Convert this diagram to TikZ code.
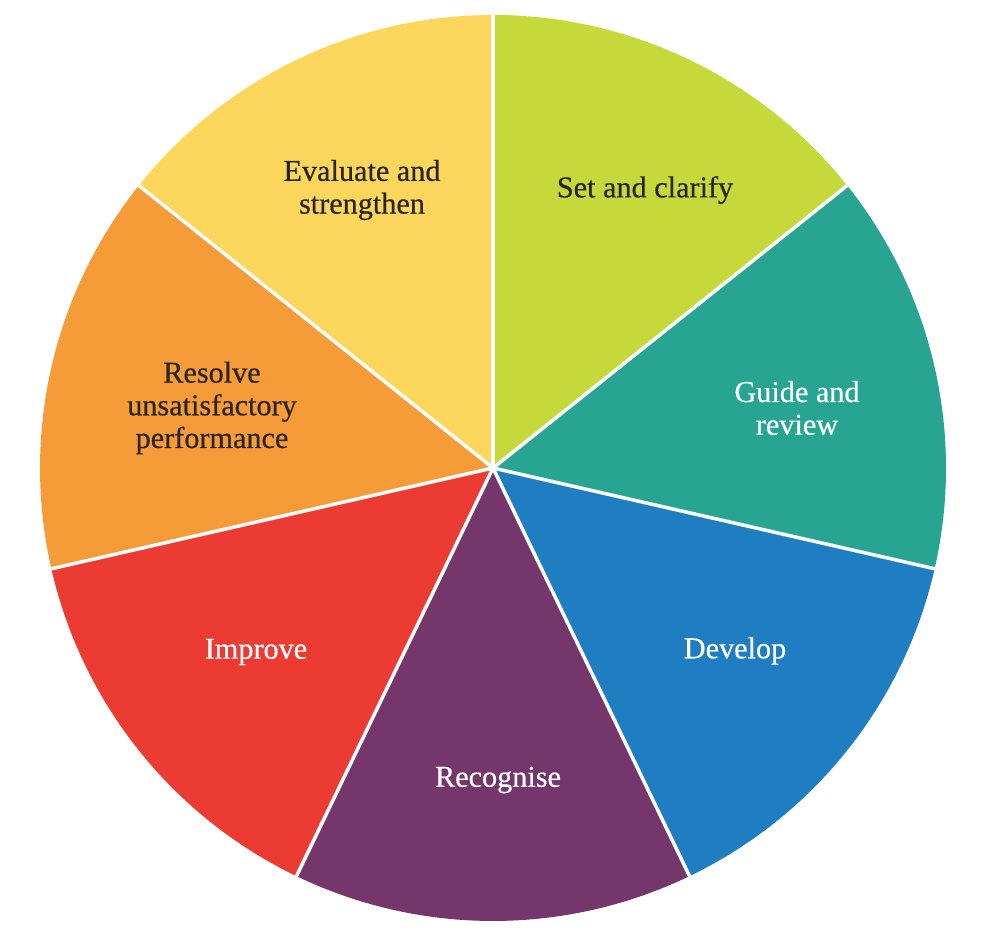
\documentclass[tikz,border=0pt]{standalone}
\usepackage{fontspec}
\setmainfont{Liberation Serif}
\newfontfamily\slicefont{Liberation Serif}[FakeBold=0.5]
\usepackage{tikz}
\usetikzlibrary{positioning}
\definecolor{slicelime}{HTML}{C5D93A}
\definecolor{sliceteal}{HTML}{27A592}
\definecolor{sliceblue}{HTML}{1F7DC1}
\definecolor{slicepurple}{HTML}{74366B}
\definecolor{slicered}{HTML}{EC3B33}
\definecolor{sliceorange}{HTML}{F59B38}
\definecolor{sliceyellow}{HTML}{FDD75B}
\definecolor{labeldark}{HTML}{2A2424}

\begin{document}
\begin{tikzpicture}[
  divider/.style={draw=white, line width=1pt},
  darklabel/.style={align=center, text=labeldark, font=\slicefont\fontsize{8.6}{9.3}\selectfont},
  lightlabel/.style={darklabel, text=white}]
\useasboundingbox (0,0) rectangle (10,9.51);
\coordinate (c) at (4.93,4.83);
% seven equal slices, clockwise from the top
\foreach \col [count=\i from 0] in {slicelime,sliceteal,sliceblue,slicepurple,slicered,sliceorange,sliceyellow} {
  \pgfmathsetmacro\a{90-\i*360/7}
  \fill[\col] (c) -- ++(\a:4.53) arc[start angle=\a, end angle=\a-360/7, radius=4.53] -- cycle;
}
\foreach \i in {0,...,6}
  \draw[divider] (c) -- ++(90-\i*360/7:4.53);
% labels
\node[darklabel] (set) at (6.45,7.61) {Set and clarify};
\node[lightlabel] (guide) at (7.97,5.43) {Guide and\\review};
\node[lightlabel] (develop) at (7.35,3.00) {Develop};
\node[lightlabel] (recognise) at (4.98,1.71) {Recognise};
\node[lightlabel] (improve) at (2.56,2.99) {Improve};
\node[darklabel] (resolve) at (2.12,5.43) {Resolve\\unsatisfactory\\performance};
\node[darklabel] (evaluate) at (3.62,7.61) {Evaluate and\\strengthen};
\end{tikzpicture}
\end{document}
